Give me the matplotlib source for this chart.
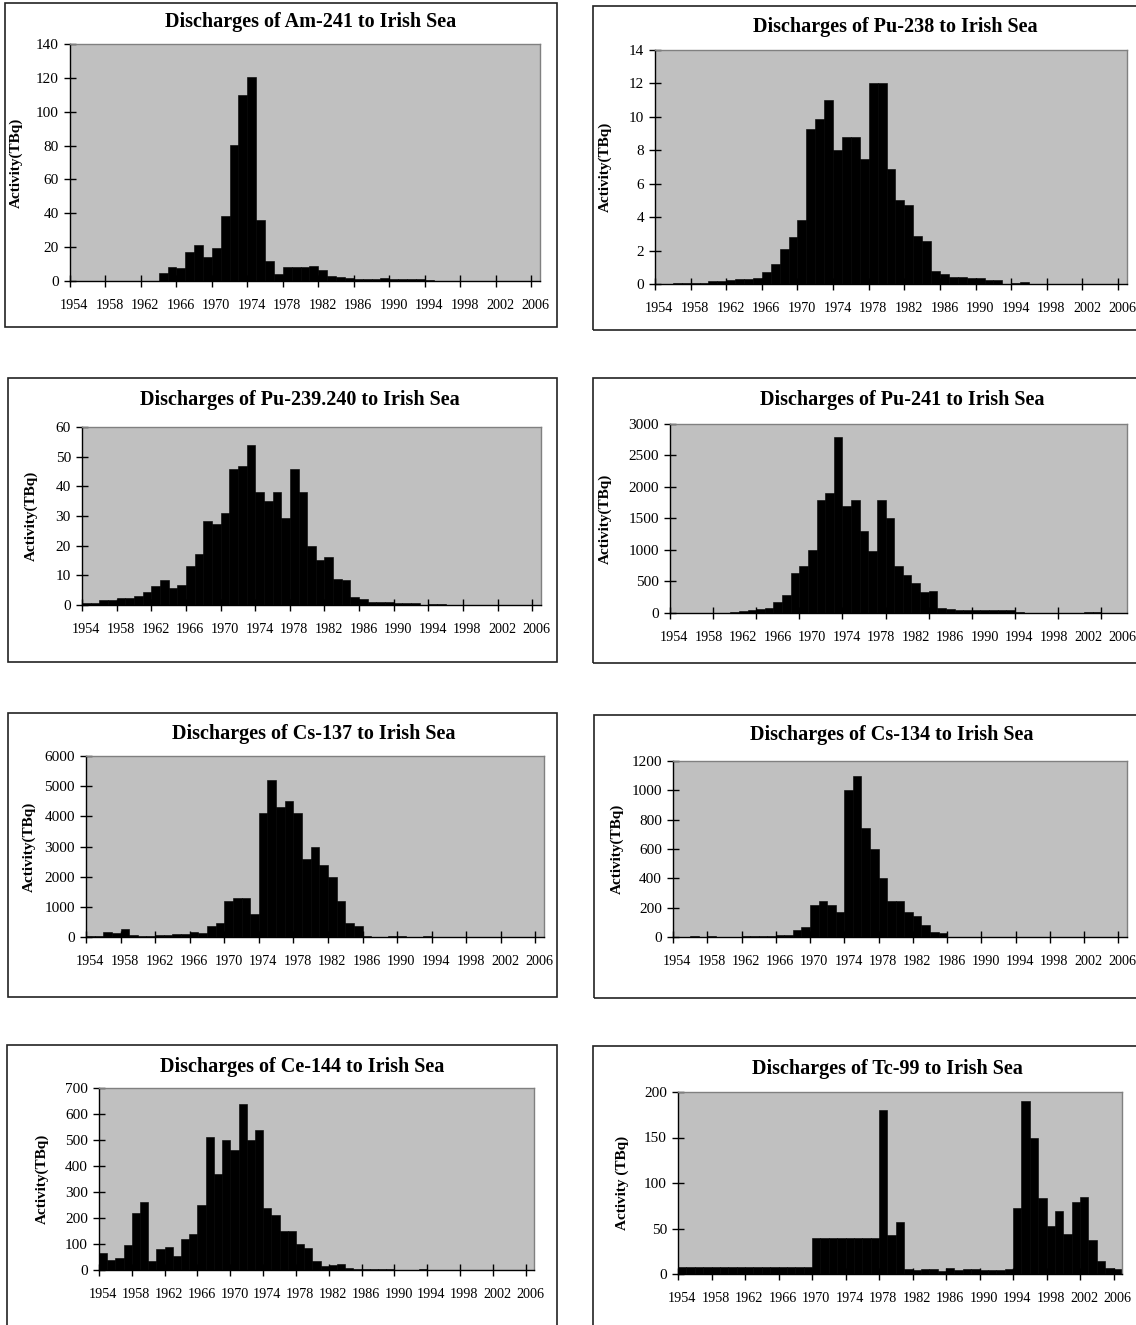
import numpy as np
import matplotlib
matplotlib.use("Agg")
import matplotlib.pyplot as plt
from matplotlib.patches import Rectangle

plt.rcParams['font.family'] = ['Liberation Serif', 'DejaVu Serif']

# ---------------- data ----------------
years = list(range(1954, 2007))
tick_labels = [str(y) for y in range(1954, 2007, 4)]

am241 = [0, 0, 0, 0, 0, 0, 0, 0, 0, 0,
         4.5, 8.3, 7.9, 17.4, 21, 14.4, 19.3, 38.3, 80.5, 110,
         120.3, 36, 11.8, 3.9, 8.3, 8.3, 8.2, 8.9, 6.5, 2.8,
         2.6, 2.0, 1.4, 1.0, 1.0, 1.5, 1.0, 1.0, 1.0, 1.0,
         0.8, 0, 0, 0, 0, 0, 0, 0, 0, 0, 0, 0, 0]

pu238 = [0, 0, 0.08, 0.08, 0.08, 0.08, 0.15, 0.2, 0.25, 0.3,
         0.3, 0.35, 0.7, 1.2, 2.1, 2.8, 3.8, 9.3, 9.9, 11,
         8.0, 8.8, 8.8, 7.5, 12, 12, 6.9, 5.0, 4.7, 2.9,
         2.6, 0.8, 0.6, 0.4, 0.4, 0.35, 0.35, 0.25, 0.25, 0,
         0.03, 0.1, 0, 0, 0, 0, 0, 0, 0, 0, 0, 0, 0]

pu239_240 = [0.8, 0.8, 1.8, 1.8, 2.2, 2.2, 2.9, 4.5, 6.5, 8.3,
             5.6, 6.8, 13, 17.3, 28.2, 27.2, 31, 46, 47, 54,
             38, 35, 38, 29.3, 46, 38, 20, 15.3, 16.3, 8.7,
             8.4, 2.8, 2.1, 1.1, 1.1, 1.1, 0.8, 0.8, 0.8, 0,
             0.2, 0.3, 0, 0, 0, 0, 0, 0, 0, 0, 0, 0, 0]

pu241 = [0, 0, 0, 0, 0, 0, 0, 15, 30, 50,
         60, 80, 170, 290, 640, 740, 1000, 1800, 1900, 2800,
         1700, 1800, 1300, 980, 1800, 1500, 740, 600, 480, 330,
         350, 80, 60, 40, 40, 40, 40, 40, 40, 40,
         20, 0, 0, 0, 0, 0, 0, 0, 15, 15, 0, 0, 0]

cs137 = [40, 40, 180, 140, 250, 70, 40, 40, 60, 60,
         100, 100, 170, 140, 380, 450, 1200, 1300, 1300, 750,
         4100, 5200, 4300, 4500, 4100, 2600, 3000, 2400, 2000, 1200,
         450, 350, 20, 0, 0, 30, 30, 0, 0, 30,
         0, 0, 0, 0, 0, 0, 0, 0, 0, 0, 0, 0, 0]

cs134 = [0, 0, 8, 0, 6, 0, 0, 0, 8, 8,
         8, 8, 15, 15, 50, 65, 220, 245, 220, 170,
         1000, 1100, 740, 600, 400, 245, 245, 170, 140, 85,
         35, 30, 0, 0, 0, 0, 0, 0, 0, 0,
         0, 0, 0, 0, 0, 0, 0, 0, 0, 0, 0, 0, 0]

ce144 = [65, 37, 48, 95, 220, 260, 33, 80, 88, 52,
         120, 140, 250, 510, 370, 500, 460, 640, 500, 540,
         240, 210, 150, 150, 100, 85, 35, 15, 20, 22,
         8, 5, 4, 4, 4, 4, 0, 0, 0, 5,
         0, 0, 0, 0, 0, 0, 0, 0, 0, 0, 0, 0, 0]

tc99 = [8, 8, 8, 8, 8, 8, 8, 8, 8, 8,
        8, 8, 8, 8, 8, 8, 40, 40, 40, 40,
        40, 40, 40, 40, 180, 43, 57, 6, 4, 5,
        5, 3, 7, 4, 5, 6, 4, 4, 4, 6,
        72, 190, 150, 84, 53, 69, 44, 79, 85, 37,
        14, 7, 6]

# ---------------- layout ----------------
W, H = 1136, 1325
fig = plt.figure(figsize=(W / 100, H / 100), dpi=100)

panels = [
    # title, values, ymax, ystep, ylabel, tick_every, frame(l,t,r,b), plot(l,t,r,b), title(x,y), ylabel x
    ("Discharges of Am-241 to Irish Sea", am241, 140, 20, "Activity(TBq)", 4,
     (5, 3, 557, 327), (70, 44, 540, 281), (311, 22), 16),
    ("Discharges of Pu-238 to Irish Sea", pu238, 14, 2, "Activity(TBq)", 4,
     (593, 6, 1140, 330), (655, 50, 1127, 284), (895, 27), 605),
    ("Discharges of Pu-239.240 to Irish Sea", pu239_240, 60, 10, "Activity(TBq)", 4,
     (8, 378, 557, 662), (82, 427, 541, 605), (300, 400), 31),
    ("Discharges of Pu-241 to Irish Sea", pu241, 3000, 500, "Activity(TBq)", 5,
     (593, 378, 1140, 663), (670, 424, 1127, 613), (902, 400), 605),
    ("Discharges of Cs-137 to Irish Sea", cs137, 6000, 1000, "Activity(TBq)", 4,
     (8, 713, 557, 997), (86, 756, 544, 937), (314, 734), 29),
    ("Discharges of Cs-134 to Irish Sea", cs134, 1200, 200, "Activity(TBq)", 4,
     (594, 715, 1140, 998), (673, 761, 1127, 937), (892, 735), 617),
    ("Discharges of Ce-144 to Irish Sea", ce144, 700, 100, "Activity(TBq)", 4,
     (7, 1045, 557, 1340), (99, 1088, 534, 1270), (302, 1067), 42),
    ("Discharges of Tc-99 to Irish Sea", tc99, 200, 50, "Activity (TBq)", 4,
     (593, 1046, 1140, 1340), (678, 1092, 1122, 1274), (887, 1069), 622),
]

n = len(years)
for (title, vals, ymax, ystep, ylab, tick_every, frame, plot, tpos, ylx) in panels:
    fl, ft, fr, fb = frame
    fig.patches.append(Rectangle((fl / W, 1 - fb / H), (fr - fl) / W, (fb - ft) / H,
                                 transform=fig.transFigure, fill=False,
                                 edgecolor='#222222', linewidth=1.2, zorder=0))
    l, t, r, b = plot
    ax = fig.add_axes([l / W, 1 - b / H, (r - l) / W, (b - t) / H])
    ax.set_facecolor('#C0C0C0')
    x = np.arange(n) + 0.5
    ax.bar(x, vals, width=1.0, color='black', edgecolor='black', linewidth=0.4)
    ax.set_xlim(0, n)
    ax.set_ylim(0, ymax)
    ax.set_yticks(np.arange(0, ymax + ystep / 2, ystep))
    ax.set_xticks(np.arange(0, n, tick_every))
    ax.set_xticklabels([])
    ax.set_xticks(np.arange(0, n, 4) + 0.5, minor=True)
    ax.set_xticklabels(tick_labels, minor=True)
    ax.tick_params(axis='x', which='major', direction='inout', length=8, width=1, color='black')
    ax.tick_params(axis='x', which='minor', length=0, pad=13, labelsize=10.2)
    ax.tick_params(axis='y', direction='inout', length=8, width=1, pad=4, labelsize=11)
    for s in ('top', 'right'):
        ax.spines[s].set_color('#808080')
        ax.spines[s].set_linewidth(1.0)
    for s in ('left', 'bottom'):
        ax.spines[s].set_color('black')
        ax.spines[s].set_linewidth(1.0)
    fig.text(tpos[0] / W, 1 - tpos[1] / H, title, ha='center', va='center',
             fontsize=14.5, fontweight='bold')
    fig.text(ylx / W, 1 - ((t + b) / 2) / H, ylab, ha='center', va='center',
             rotation=90, fontsize=11, fontweight='bold')

fig.savefig("out.png", dpi=100, facecolor='white')
